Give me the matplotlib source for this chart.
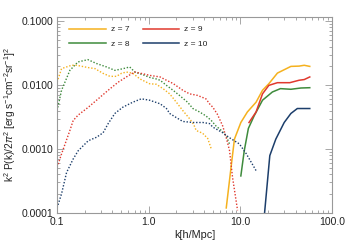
import matplotlib
matplotlib.use("Agg")
import matplotlib.pyplot as plt
from matplotlib.ticker import FixedLocator, FixedFormatter, LogLocator, NullFormatter

plt.rcParams['font.family'] = ['Liberation Sans', 'DejaVu Sans']
plt.rcParams['mathtext.fontset'] = 'custom'
plt.rcParams['mathtext.rm'] = 'Liberation Sans'
plt.rcParams['mathtext.it'] = 'Liberation Sans:italic'

labels = ["z = 7", "z = 8", "z = 9", "z = 10"]
colors = ["#F5B11E", "#3E8B3C", "#E0392E", "#1C3E6B"]

# dotted (low k) series
k7_d = [0.100, 0.112, 0.144, 0.164, 0.217, 0.259, 0.316, 0.377, 0.445, 0.505, 0.57, 0.67, 0.80, 1.02, 1.21, 1.43, 1.69, 2.0, 2.35, 2.78, 3.1, 3.29, 3.86, 4.4, 4.8]
p7_d = [0.0111, 0.0181, 0.0204, 0.0204, 0.0188, 0.0181, 0.0153, 0.0137, 0.0137, 0.0153, 0.016, 0.0153, 0.0125, 0.0105, 0.0103, 0.0088, 0.0073, 0.0054, 0.0040, 0.0030, 0.0024, 0.00195, 0.00177, 0.00146, 0.00101]

k8_d = [0.100, 0.112, 0.138, 0.169, 0.217, 0.27, 0.347, 0.427, 0.52, 0.62, 0.705, 0.90, 1.02, 1.2, 1.33, 1.56, 1.84, 2.16, 2.65, 3.03, 3.58, 4.2, 4.8, 5.4, 6.2, 7.0, 7.6]
p8_d = [0.0040, 0.0083, 0.017, 0.023, 0.025, 0.0217, 0.0192, 0.017, 0.018, 0.0192, 0.016, 0.0142, 0.0132, 0.0125, 0.0119, 0.0099, 0.0083, 0.0069, 0.0054, 0.0043, 0.0038, 0.0033, 0.0028, 0.0023, 0.00195, 0.0016, 0.0012]

k9_d = [0.100, 0.112, 0.138, 0.150, 0.170, 0.219, 0.281, 0.361, 0.464, 0.57, 0.70, 0.87, 1.02, 1.33, 1.56, 1.84, 2.35, 2.78, 3.4, 4.2, 4.6, 5.0, 5.6, 6.4, 7.0, 7.6, 8.2, 9.3]
p9_d = [0.00052, 0.00084, 0.00195, 0.0028, 0.0034, 0.0045, 0.0061, 0.0083, 0.0111, 0.0134, 0.016, 0.015, 0.0142, 0.0134, 0.0119, 0.0106, 0.0083, 0.0073, 0.0069, 0.0061, 0.0051, 0.0045, 0.0035, 0.0023, 0.0015, 0.00095, 0.00036, 0.00011]

k10_d = [0.100, 0.112, 0.127, 0.150, 0.170, 0.219, 0.27, 0.318, 0.361, 0.427, 0.52, 0.67, 0.83, 1.02, 1.33, 1.56, 1.69, 2.0, 2.35, 3.03, 3.9, 4.6, 5.0, 6.4, 7.6, 9.75, 11.6, 14.8]
p10_d = [0.00012, 0.0002, 0.00043, 0.0007, 0.00094, 0.00135, 0.00153, 0.0018, 0.0025, 0.0036, 0.0045, 0.0054, 0.0061, 0.0058, 0.0051, 0.0043, 0.0036, 0.0031, 0.0027, 0.0026, 0.0026, 0.0025, 0.0022, 0.0018, 0.0015, 0.0012, 0.00084, 0.00046]

# solid (high k) series
k7_s = [7.0, 7.9, 8.6, 10.1, 11.9, 14.8, 17.4, 20.4, 25.3, 35.5, 43.6, 49.6, 57]
p7_s = [0.00012, 0.00052, 0.00143, 0.0026, 0.0038, 0.0054, 0.0083, 0.0105, 0.0154, 0.0196, 0.0198, 0.0204, 0.0196]

k8_s = [10.1, 11.0, 12.2, 14.1, 17.4, 22.3, 27.3, 35.5, 45.6, 57]
p8_s = [0.00038, 0.00094, 0.0021, 0.0033, 0.0058, 0.0078, 0.0088, 0.0086, 0.009, 0.0091]

k9_s = [12.4, 14.8, 17.4, 20.4, 25.3, 34.5, 43.6, 49.6, 57]
p9_s = [0.0026, 0.0038, 0.0073, 0.0099, 0.0109, 0.0109, 0.0119, 0.0122, 0.0134]

k10_s = [18.2, 20.9, 24.3, 30.0, 35.5, 41.7, 49.6, 57]
p10_s = [0.00009, 0.00079, 0.00143, 0.0026, 0.0036, 0.0043, 0.0043, 0.0043]

xticks = [0.1, 1.0, 10.0, 100.0]
xticklabels = ["0.1", "1.0", "10.0", "100.0"]
yticks = [0.0001, 0.001, 0.01, 0.1]
yticklabels = ["0.0001", "0.0010", "0.0100", "0.1000"]

dotted = [(k7_d, p7_d), (k8_d, p8_d), (k9_d, p9_d), (k10_d, p10_d)]
solid = [(k7_s, p7_s), (k8_s, p8_s), (k9_s, p9_s), (k10_s, p10_s)]

fig = plt.figure(figsize=(3.5, 2.5), dpi=100)
ax = fig.add_axes([0.163, 0.148, 0.786, 0.784])

for (kd, pd_), (ks, ps), c, lab in zip(dotted, solid, colors, labels):
    ax.plot(kd, pd_, ls=(0, (1, 1.3)), color=c, lw=1.0)
    ax.plot(ks, ps, ls='-', color=c, lw=1.1, label=lab)

ax.set_xscale('log')
ax.set_yscale('log')
ax.set_xlim(0.1, 100)
ax.set_ylim(1e-4, 0.116)

ax.xaxis.set_major_locator(FixedLocator(xticks))
ax.xaxis.set_major_formatter(FixedFormatter(xticklabels))
ax.yaxis.set_major_locator(FixedLocator(yticks))
ax.yaxis.set_major_formatter(FixedFormatter(yticklabels))
ax.xaxis.set_minor_locator(LogLocator(base=10, subs=range(2, 10)))
ax.yaxis.set_minor_locator(LogLocator(base=10, subs=range(2, 10)))
ax.xaxis.set_minor_formatter(NullFormatter())
ax.yaxis.set_minor_formatter(NullFormatter())

gray = '#999999'
for s in ax.spines.values():
    s.set_color(gray)
    s.set_linewidth(0.8)
ax.tick_params(which='both', direction='in', top=True, right=True, colors=gray,
               labelcolor='#222222', labelsize=7.5, width=0.6)
ax.tick_params(which='major', length=5, pad=3)
ax.tick_params(which='minor', length=2.5)

ax.set_xlabel("k[h/Mpc]", fontsize=7.8, color='#222222', labelpad=2)
ax.set_ylabel(r"k$^2$ P(k)/2$\pi^2$ [erg s$^{-1}$cm$^{-2}$sr$^{-1}$]$^2$",
              fontsize=7.3, color='#222222', labelpad=2)

handles, labs = ax.get_legend_handles_labels()
leg = ax.legend(handles, labs, ncol=2,
                loc='upper left', bbox_to_anchor=(0.02, 0.99), frameon=False,
                fontsize=6, handlelength=4.4, handletextpad=0.6,
                columnspacing=1.6, labelspacing=0.75, borderpad=0.3)
for t in leg.get_texts():
    t.set_color('#222222')

fig.savefig("out.png", dpi=100)
